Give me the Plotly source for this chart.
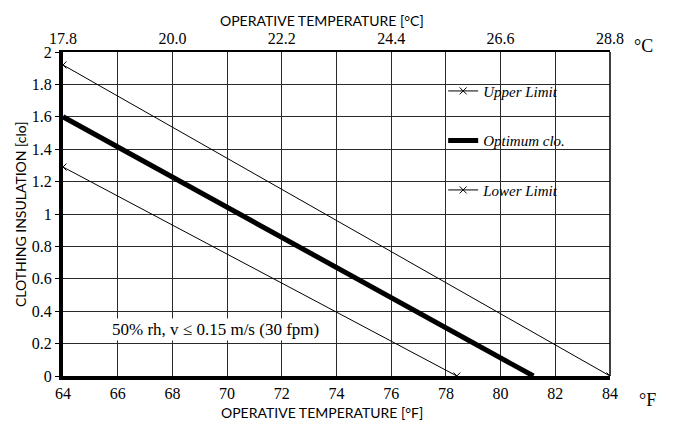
import plotly.graph_objects as go

# Data
upper_x = [64, 84]
upper_y = [1.92, 0.0]
optimum_x = [64, 81.2]
optimum_y = [1.6, 0.0]
lower_x = [64, 78.4]
lower_y = [1.29, 0.0]

f_ticks = [64, 66, 68, 70, 72, 74, 76, 78, 80, 82, 84]
c_tickvals = [64, 68, 72, 76, 80, 84]
c_ticktext = ["17.8", "20.0", "22.2", "24.4", "26.6", "28.8"]
y_ticks = [0, 0.2, 0.4, 0.6, 0.8, 1, 1.2, 1.4, 1.6, 1.8, 2]
y_ticktext = ["0", "0.2", "0.4", "0.6", "0.8", "1", "1.2", "1.4", "1.6", "1.8", "2"]

serif = "Liberation Serif"
sans = "Lato"
tickfont = dict(family=serif, size=16, color="black")

fig = go.Figure()
fig.add_trace(go.Scatter(x=upper_x, y=upper_y, mode="lines+markers", name="Upper Limit",
                         legendgroup="u",
                         line=dict(color="black", width=1),
                         marker=dict(symbol="x-thin", size=7, color="black", line=dict(width=1, color="black"))))
fig.add_trace(go.Scatter(x=optimum_x, y=optimum_y, mode="lines", name="Optimum clo.",
                         legendgroup="o",
                         line=dict(color="black", width=5)))
fig.add_trace(go.Scatter(x=lower_x, y=lower_y, mode="lines+markers", name="Lower Limit",
                         legendgroup="l",
                         line=dict(color="black", width=1),
                         marker=dict(symbol="x-thin", size=7, color="black", line=dict(width=1, color="black"))))
# invisible trace to activate top axis
fig.add_trace(go.Scatter(x=[64, 84], y=[0, 0], xaxis="x2", mode="lines",
                         line=dict(width=0), showlegend=False, hoverinfo="skip"))

fig.update_layout(
    width=663, height=416,
    margin=dict(l=55, r=61, t=44, b=48),
    paper_bgcolor="white", plot_bgcolor="white",
    font=dict(family=serif, size=16, color="black"),
    showlegend=True,
    legend=dict(x=0.695, y=0.93, xanchor="left", yanchor="top",
                bgcolor="rgba(255,255,255,0)", tracegroupgap=27,
                font=dict(family=serif, size=15, color="black", style="italic"),
                itemwidth=30, traceorder="grouped"),
    xaxis=dict(range=[64, 84], tickvals=f_ticks, ticktext=[str(v) for v in f_ticks],
               showgrid=True, gridcolor="#2a2a2a", gridwidth=1.2,
               showline=True, linecolor="black", linewidth=4,
               ticks="", tickfont=tickfont, automargin=False,
               zeroline=False),
    xaxis2=dict(range=[64, 84], overlaying="x", side="top", anchor="y",
                tickvals=c_tickvals, ticktext=c_ticktext,
                showgrid=False, showline=True, linecolor="black", linewidth=1.5,
                ticks="", tickfont=tickfont, automargin=False,
                zeroline=False),
    yaxis=dict(range=[0, 2], tickvals=y_ticks, ticktext=y_ticktext,
               showgrid=True, gridcolor="#2a2a2a", gridwidth=1.2,
               showline=True, linecolor="black", linewidth=4,
               ticks="outside", ticklen=4, tickcolor="black",
               tickfont=tickfont, automargin=False,
               zeroline=False),
)

# right frame line
fig.add_shape(type="line", xref="paper", yref="paper", x0=1, x1=1, y0=0, y1=1,
              line=dict(color="black", width=1.5))

title_font = dict(family=sans, size=14, color="black")
fig.add_annotation(x=0.474, y=1.0, xref="paper", yref="paper", yanchor="middle", yshift=32,
                   text="OPERATIVE TEMPERATURE [°C]", showarrow=False, font=title_font)
fig.add_annotation(x=0.474, y=0.0, xref="paper", yref="paper", yanchor="middle", yshift=-36,
                   text="OPERATIVE TEMPERATURE [°F]", showarrow=False, font=title_font)
fig.add_annotation(x=0.0, y=0.5, xref="paper", yref="paper", xanchor="center", xshift=-43,
                   text="CLOTHING INSULATION [clo]", showarrow=False, font=title_font,
                   textangle=-90)

fig.add_annotation(x=69.56, y=0.285, xref="x", yref="y",
                   text="50% rh, v ≤ 0.15 m/s (30 fpm)", showarrow=False,
                   font=dict(family=serif, size=17, color="black"),
                   bgcolor="white")
fig.add_annotation(x=1.0, y=1.0, xref="paper", yref="paper", xanchor="left", yanchor="middle",
                   xshift=22, yshift=6,
                   text="°C", showarrow=False,
                   font=dict(family=serif, size=18, color="black"))
fig.add_annotation(x=1.0, y=0.0, xref="paper", yref="paper", xanchor="left", yanchor="middle",
                   xshift=27, yshift=-24,
                   text="°F", showarrow=False,
                   font=dict(family=serif, size=18, color="black"))

fig.write_html("out.html")
